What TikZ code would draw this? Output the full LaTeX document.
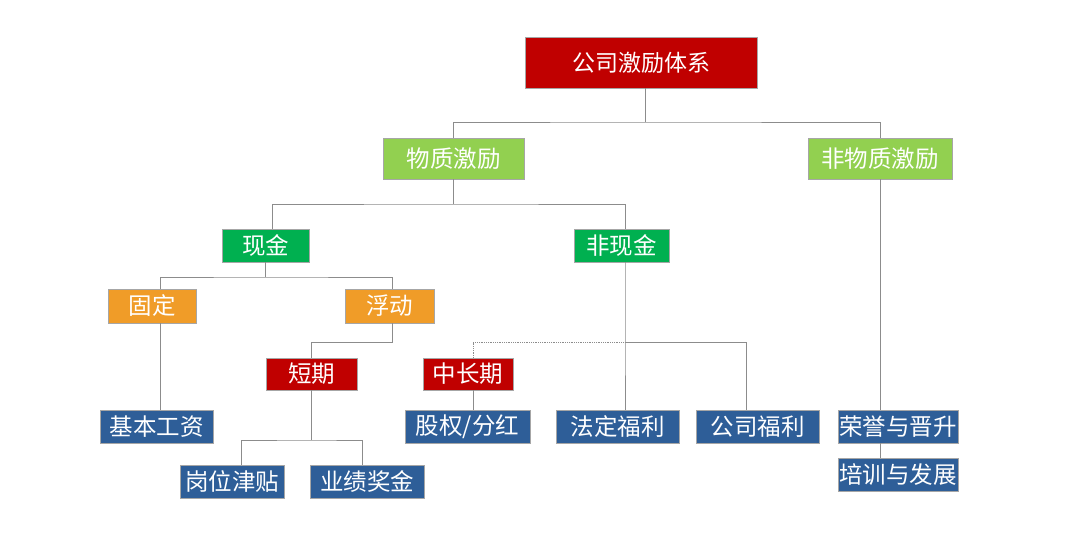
\documentclass[tikz,border=0pt]{standalone}
\usepackage{fontspec}
\setmainfont{Noto Sans CJK SC}
\usepackage{xcolor}
\definecolor{Col1}{RGB}{192,0,0}
\definecolor{Col2}{RGB}{146,208,80}
\definecolor{Col3}{RGB}{0,176,80}
\definecolor{Col4}{RGB}{240,156,40}
\definecolor{Col5}{RGB}{46,94,152}
\usepackage{tikz}
\tikzstyle{Box}=[rectangle,draw=black!35,line width=.5pt,text=white,
inner sep=0pt,font=\fontsize{23.5}{26}\selectfont]
\tikzstyle{BoxA}=[Box,fill=Col1]
\tikzstyle{BoxB}=[Box,fill=Col2]
\tikzstyle{BoxC}=[Box,fill=Col3]
\tikzstyle{BoxD}=[Box,fill=Col4]
\tikzstyle{BoxE}=[Box,fill=Col5,minimum height=33]
\tikzstyle{Edge}=[draw=black!45,line width=.8pt]

\begin{document}
\begin{tikzpicture}[x=1pt,y=-1pt]
        \useasboundingbox(0,0)rectangle(1080,540);
        \node[BoxA,minimum width=232,minimum height=51,
            font=\fontsize{23}{26}\selectfont](0)at(641.00,62.50){公司激励体系};
        \node[BoxB,minimum width=141,minimum height=41](1)at(453.50,158.50){物质激励};
        \node[BoxB,minimum width=144,minimum height=41](2)at(880.00,158.50){非物质激励};
        \node[BoxC,minimum width=87,minimum height=33](3)at(265.50,245.50){现金};
        \node[BoxC,minimum width=95,minimum height=33](4)at(621.50,245.50){非现金};
        \node[BoxD,minimum width=88,minimum height=34](5)at(152.00,306.00){固定};
        \node[BoxD,minimum width=89,minimum height=34](6)at(389.50,306.00){浮动};
        \node[BoxA,minimum width=91,minimum height=32](7)at(311.50,374.00){短期};
        \node[BoxA,minimum width=90,minimum height=32](8)at(468.00,374.00){中长期};
        \node[BoxE,minimum width=113](9)at(156.50,426.50){基本工资};
        \node[BoxE,minimum width=125](10)at(467.50,426.50){股权/分红};
        \node[BoxE,minimum width=123](11)at(617.50,426.50){法定福利};
        \node[BoxE,minimum width=123](12)at(757.50,426.50){公司福利};
        \node[BoxE,minimum width=120](13)at(898.00,426.50){荣誉与晋升};
        \node[BoxE,minimum width=120](14)at(898.00,474.50){培训与发展};
        \node[BoxE,minimum width=104](15)at(232.00,481.50){岗位津贴};
        \node[BoxE,minimum width=114](16)at(367.00,481.50){业绩奖金};
        % joints
        \coordinate(j0)at(645.00,122.00);
        \coordinate(j1)at(453.50,204.00);
        \coordinate(j2)at(265.50,277.00);
        \coordinate(j3)at(392.00,342.00);
        \coordinate(j4)at(625.00,342.00);
        \coordinate(j5)at(311.50,440.00);
        \draw[Edge](0.south -| j0)--(j0);
        \draw[Edge](1.north)|-(j0)-|(2.north);
        \draw[Edge](1.south)--(j1);
        \draw[Edge]([xshift=7pt]3.north)|-(j1)-|([xshift=3.5pt]4.north);
        \draw[Edge](3.south)--(j2);
        \draw[Edge]([xshift=8pt]5.north)|-(j2)-|([xshift=2.5pt]6.north);
        \draw[Edge]([xshift=8pt]5.south)--([xshift=8pt]5.south |- 9.north);
        \draw[Edge]([xshift=2.5pt]6.south)--(j3)-|(7.north);
        \draw[Edge]([xshift=3.5pt]4.south)--(j4)--(j4 |- 11.north);
        \draw[Edge,densely dotted]([xshift=5pt]8.north)|-(j4);
        \draw[Edge](j4)-|([xshift=-11pt]12.north);
        \draw[Edge]([xshift=5pt]8.south)--([xshift=5pt]8.south |- 10.north);
        \draw[Edge](7.south)--(j5);
        \draw[Edge]([xshift=9pt]15.north)|-(j5)-|([xshift=-5pt]16.north);
        \draw[Edge](2.south)--(2.south |- 13.north);
        \draw[Edge](2.south |- 13.south)--(2.south |- 14.north);
    \end{tikzpicture}
\end{document}
